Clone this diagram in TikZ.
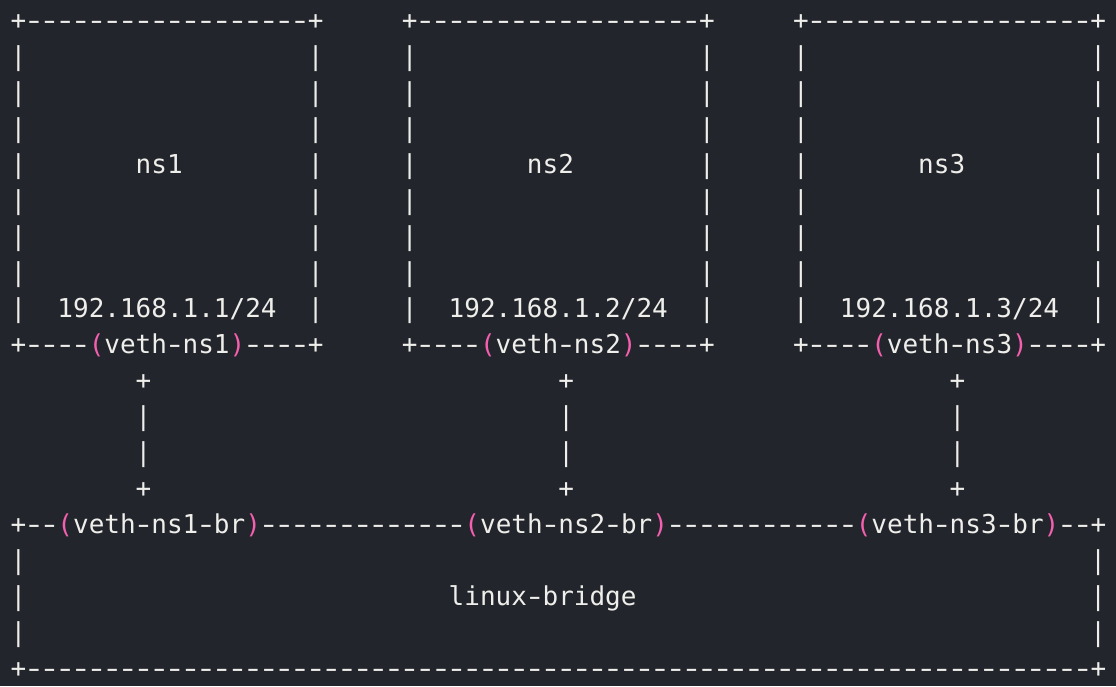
\documentclass[tikz,border=0pt]{standalone}
\usepackage{fontspec}
\usepackage{graphicx}
\setmonofont{DejaVu Sans Mono}
\definecolor{bgc}{HTML}{23252D}
\definecolor{fgc}{HTML}{EEEEEA}
\definecolor{pkc}{HTML}{F45FAE}
\newcommand\pk[1]{\textcolor{pkc}{#1}}
\newcommand\hy{\makebox[0.6021em][c]{\scalebox{1.4}[1]{-}}}
\ExplSyntaxOn
\cs_new:Npn \dashes #1 { \prg_replicate:nn {#1} { \hy } }
\ExplSyntaxOff
\tikzset{txt/.style={inner sep=0pt, outer sep=0pt, anchor=base west, text=fgc,
  font=\ttfamily\fontsize{26}{36}\selectfont}}
\newcommand\cellat[4]{\node[txt] (#1) at ({10.5+15.65*(#2)},{29+36*(#3)}) {#4};}
\begin{document}
\begin{tikzpicture}[x=1pt,y=-1pt]
\fill[bgc] (0,0) rectangle (1116,686);
\useasboundingbox (0,0) rectangle (1116,686);
% namespace boxes
\foreach \b/\c in {1/0,2/25,3/50} {
  \cellat{top\b}{\c}{0}{+\dashes{18}+}
  \foreach \r in {1,...,8} {
    \cellat{l\b-\r}{\c}{\r}{|}
    \cellat{r\b-\r}{\c+19}{\r}{|}
  }
  \cellat{name\b}{\c+8}{4}{ns\b}
  \cellat{ip\b}{\c+3}{8}{192.168.1.\b/24}
  \cellat{bot\b}{\c}{9}{+\dashes{4}\pk{(}veth\hy ns\b\pk{)}\dashes{4}+}
}
% veth links
\foreach \b/\c in {1/8,2/35,3/60} {
  \cellat{pa\b}{\c}{10}{+}
  \cellat{va\b}{\c}{11}{|}
  \cellat{vb\b}{\c}{12}{|}
  \cellat{pb\b}{\c}{13}{+}
}
% bridge
\cellat{brtop}{0}{14}{+\dashes{2}\pk{(}veth\hy ns1\hy br\pk{)}\dashes{13}\pk{(}veth\hy ns2\hy br\pk{)}\dashes{12}\pk{(}veth\hy ns3\hy br\pk{)}\dashes{2}+}
\foreach \r in {15,16,17} {
  \cellat{bl-\r}{0}{\r}{|}
  \cellat{br-\r}{69}{\r}{|}
}
\cellat{brname}{28}{16}{linux\hy bridge}
\cellat{brbot}{0}{18}{+\dashes{68}+}
\end{tikzpicture}
\end{document}
